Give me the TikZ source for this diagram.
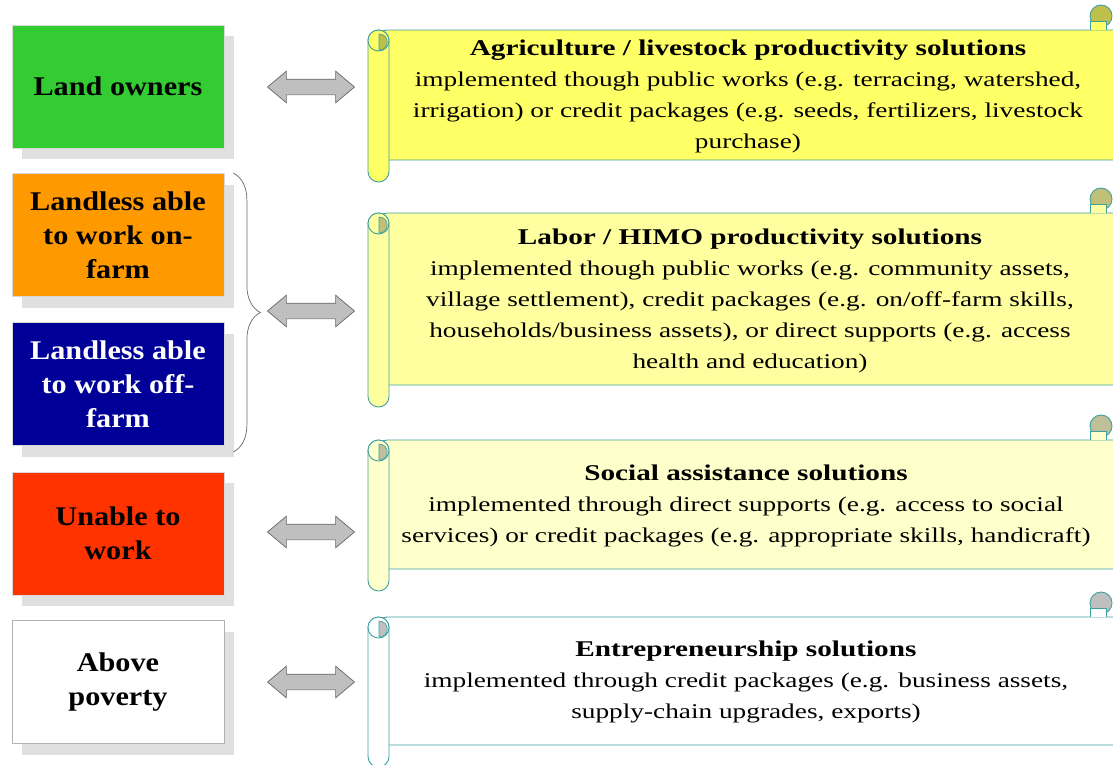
\documentclass[tikz,border=0pt]{standalone}
\usepackage{fontspec}
\setmainfont{Liberation Serif}
\newfontfamily\groupfont{Liberation Serif}[FakeStretch=1.12]
\newfontfamily\scrollfont{Liberation Serif}[FakeStretch=1.3]
\usepackage{xcolor}
\usepackage{tikz}
\usetikzlibrary{decorations.pathreplacing}
\usetikzlibrary{shapes.arrows, positioning, calc, shadows}

\definecolor{ownergreen}{HTML}{33CC33}
\definecolor{farmorange}{HTML}{FF9900}
\definecolor{farmnavy}{HTML}{000099}
\definecolor{unablered}{HTML}{FF3300}
\definecolor{scrolledge}{HTML}{3FA0A0}
\definecolor{scrollA}{HTML}{FFFF66}
\definecolor{scrollB}{HTML}{FFFF9F}
\definecolor{scrollC}{HTML}{FFFFCC}
\definecolor{scrollD}{HTML}{FFFFFF}

% scroll: #1 top, #2 bottom (both below 0), #3 fill
\newcommand\drawscroll[3]{%
  \draw[scrolledge, line width=0.9pt, fill=#3, rounded corners=9pt]
    (378,#1) rectangle (1130,#2);
  \draw[scrolledge, line width=0.9pt, fill=#3, rounded corners=10.5pt]
    (368,#1) rectangle (389,#2-22);
  \draw[scrolledge, line width=0.9pt, fill=#3] (378.5,#1-10.5) circle (10.5pt);
  \draw[scrolledge, line width=0.6pt, fill=#3!75!black]
    (379,#1-4) .. controls (390,#1-4) and (390,#1-20) .. (379,#1-20) -- cycle;
  \draw[scrolledge, line width=0.9pt, fill=#3!75!black] (1101,#1+14) circle (11pt);
  \draw[scrolledge, line width=0.9pt, fill=#3] (1090,#1) -- (1090,#1+9) -- (1106,#1+9) -- (1106,#1);
}

\begin{document}
\begin{tikzpicture}[
    x=1pt, y=1pt,
    % left boxes
    group/.style={rectangle, minimum width=212pt, minimum height=123pt,
      inner sep=0pt, align=center, font=\groupfont\fontsize{27}{34}\selectfont\bfseries,
      draw=black!15, line width=0.8pt,
      general shadow={fill=black!12, shadow xshift=10pt, shadow yshift=-11pt}},
    % two-headed arrows
    twoway/.style={double arrow, minimum height=87pt,
      inner xsep=0pt, inner ysep=7.5pt, double arrow head extend=8pt,
      double arrow tip angle=80,
      fill=black!25, draw=black!60, line width=0.7pt},
    % texts on the scrolls
    scrolltext/.style={align=center, inner sep=0pt,
      font=\scrollfont\fontsize{21}{31}\selectfont}
]
\useasboundingbox (0,0) rectangle (1113,-764);

% left groups
\node[group, fill=ownergreen] (owners) at (118,-86.5) {Land owners};
\node[group, fill=farmorange] (onfarm) at (118,-235) {Landless able\\to work on-\\farm};
\node[group, fill=farmnavy, text=white] (offfarm) at (118,-384) {Landless able\\to work off-\\farm};
\node[group, fill=unablered] (unable) at (118,-533.5) {Unable to\\work};
\node[group, fill=white, draw=black!30] (above) at (118,-682) {Above\\poverty};

% brace over the two landless groups
\draw[black!60, line width=0.7pt, decorate, decoration={brace, amplitude=27pt, aspect=0.5}]
  ([xshift=9pt]onfarm.north east) -- ([xshift=9pt, yshift=-6pt]offfarm.south east);

% arrows
\node[twoway] (arrowA) at (311,-87) {};
\node[twoway] (arrowB) at (311,-311) {};
\node[twoway] (arrowC) at (311,-532) {};
\node[twoway] (arrowD) at (311,-682) {};

% scrolls
\begin{scope}
\clip (0,0) rectangle (1113,-764);
\drawscroll{-30}{-160}{scrollA}
\drawscroll{-213}{-385}{scrollB}
\drawscroll{-440}{-569}{scrollC}
\drawscroll{-617}{-745}{scrollD}
\end{scope}

\node[scrolltext] (agri) at (748,-96) {{\fontsize{22.5}{31}\selectfont\bfseries Agriculture / livestock productivity solutions}\\
  implemented though public works (e.g. terracing, watershed,\\
  irrigation) or credit packages (e.g. seeds, fertilizers, livestock\\
  purchase)};
\node[scrolltext] (labor) at (750,-301) {{\fontsize{22.5}{31}\selectfont\bfseries Labor / HIMO productivity solutions}\\
  implemented though public works (e.g. community assets,\\
  village settlement), credit packages (e.g. on/off-farm skills,\\
  households/business assets), or direct supports (e.g. access\\
  health and education)};
\node[scrolltext] (social) at (746,-506) {{\fontsize{22.5}{31}\selectfont\bfseries Social assistance solutions}\\
  implemented through direct supports (e.g. access to social\\
  services) or credit packages (e.g. appropriate skills, handicraft)};
\node[scrolltext] (entre) at (746,-682) {{\fontsize{22.5}{31}\selectfont\bfseries Entrepreneurship solutions}\\
  implemented through credit packages (e.g. business assets,\\
  supply-chain upgrades, exports)};

\end{tikzpicture}
\end{document}
